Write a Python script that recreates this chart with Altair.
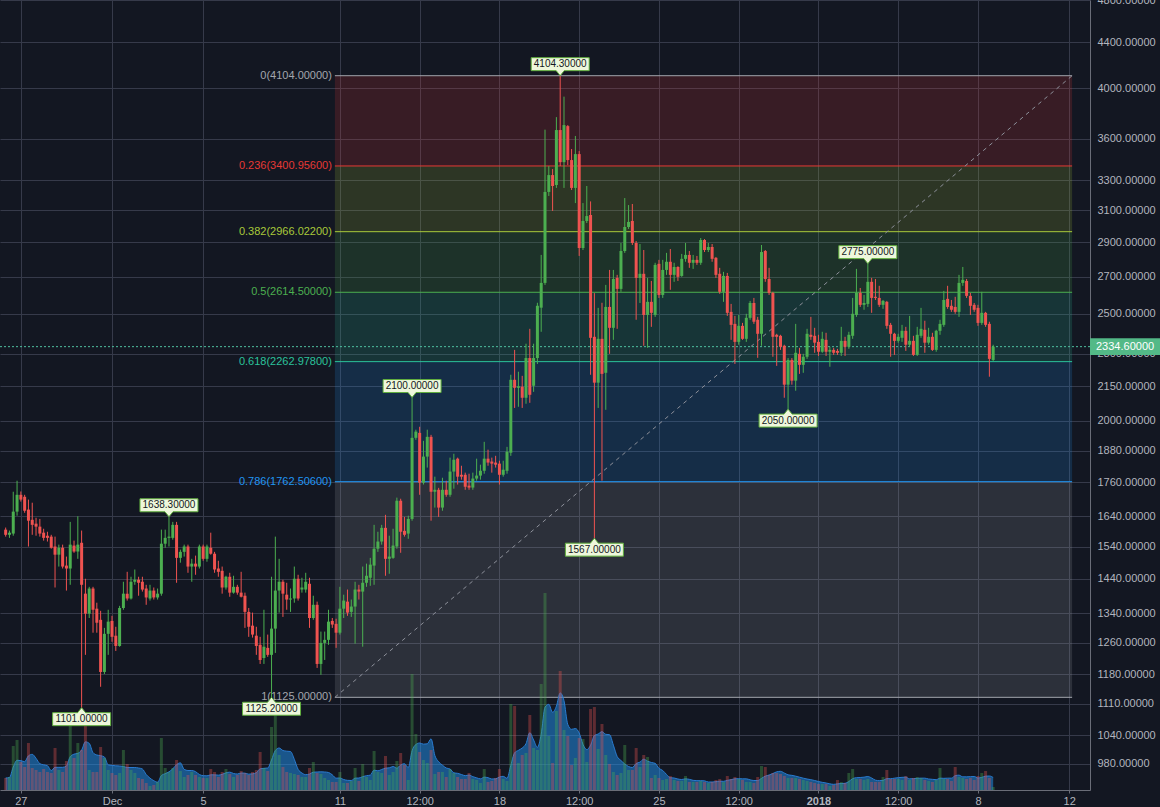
import altair as alt
import pandas as pd

# ---------------------------------------------------------------------------
# BTC/USD 4-hour candles, 26 Nov 2017 08:00 -> 8 Jan 2018 16:00
# ---------------------------------------------------------------------------
first_candle = "2017-11-26 08:00"
day_zero = "2017-11-27 00:00"

opens = [
    1595,
    1578, 1582, 1656, 1715, 1708, 1663, 1628, 1615, 1605, 1585,
    1575, 1572, 1540, 1514, 1536, 1480, 1471, 1543, 1524, 1552,
    1396, 1339, 1411, 1353, 1322, 1186, 1284, 1319, 1279, 1252,
    1355, 1396, 1382, 1431, 1437, 1431, 1411, 1382, 1405, 1385,
    1396, 1549, 1568, 1568, 1611, 1504, 1523, 1540, 1477, 1486,
    1477, 1540, 1501, 1536, 1517, 1471, 1464, 1414, 1446, 1399,
    1416, 1399, 1390, 1344, 1306, 1279, 1255, 1221, 1247, 1229,
    1298, 1405, 1431, 1393, 1379, 1382, 1440, 1408, 1408, 1425,
    1327, 1364, 1206, 1260, 1268, 1319, 1311, 1287, 1353, 1373,
    1344, 1359, 1408, 1402, 1428, 1443, 1480, 1533, 1556, 1601,
    1501, 1504, 1540, 1694, 1591, 1582, 1631, 1931, 1951, 1759,
    1857, 1935, 1726, 1733, 1670, 1733, 1715, 1800, 1849, 1788,
    1788, 1748, 1741, 1774, 1785, 1803, 1849, 1838, 1834, 1830,
    1788, 1803, 1872, 2179, 2143, 2148, 2099, 2280, 2152, 2280,
    2532, 2666, 3222, 3337, 3269, 3665, 3428, 3695, 3443, 3249,
    3486, 2867, 3033, 3071, 2383, 2166, 2373, 2211, 2536, 2428,
    2694, 2633, 2849, 2995, 3033, 2897, 2694, 2717, 2494, 2563,
    2494, 2774, 2600, 2739, 2786, 2711, 2756, 2705, 2803, 2826,
    2780, 2797, 2780, 2915, 2855, 2873, 2809, 2717, 2617, 2705,
    2510, 2448, 2358, 2438, 2373, 2479, 2557, 2469, 2398, 2849,
    2688, 2611, 2393, 2388, 2339, 2157, 2271, 2175, 2300, 2248,
    2286, 2393, 2388, 2358, 2310, 2368, 2310, 2319, 2314, 2305,
    2363, 2334, 2388, 2494, 2611, 2547, 2552, 2672, 2590, 2584,
    2547, 2563, 2443, 2398, 2363, 2378, 2413, 2344, 2363, 2295,
    2388, 2418, 2354, 2383, 2319, 2413, 2443, 2579, 2542, 2536,
    2510, 2666, 2677, 2595, 2547, 2531, 2453, 2505, 2448, 2271,
]

highs = [
    1602,
    1592, 1726, 1766, 1727, 1715, 1698, 1687, 1635, 1631, 1598,
    1588, 1578, 1572, 1546, 1546, 1508, 1621, 1559, 1640, 1592,
    1440, 1416, 1416, 1370, 1347, 1300, 1350, 1333, 1303, 1361,
    1431, 1461, 1446, 1468, 1446, 1446, 1422, 1422, 1414, 1411,
    1595, 1595, 1638.3, 1621, 1621, 1530, 1546, 1546, 1501, 1511,
    1546, 1546, 1546, 1585, 1523, 1495, 1477, 1449, 1458, 1449,
    1422, 1461, 1399, 1355, 1342, 1303, 1276, 1350, 1282, 1446,
    1572, 1501, 1437, 1428, 1411, 1477, 1452, 1443, 1458, 1443,
    1390, 1373, 1290, 1290, 1350, 1327, 1325, 1416, 1393, 1408,
    1379, 1431, 1422, 1477, 1486, 1504, 1611, 1588, 1611, 1645,
    1575, 1598, 1705, 1701, 1638, 1642, 2100, 1964, 1976, 1919,
    1964, 1943, 1781, 1740, 1777, 1766, 1853, 1868, 1853, 1822,
    1796, 1792, 1796, 1849, 1826, 1915, 1884, 1853, 1860, 1841,
    1841, 1895, 2202, 2319, 2216, 2197, 2349, 2423, 2349, 2558,
    2826, 3668, 3400, 3379, 3765, 4104.3, 3929, 3703, 3523, 3620,
    3508, 3148, 3262, 3159, 2610, 2531, 2558, 2655, 2739, 2739,
    2711, 2897, 3181, 3135, 3142, 2909, 2891, 2855, 2694, 2677,
    2780, 2797, 2797, 2838, 2861, 2780, 2760, 2832, 2897, 2849,
    2826, 2820, 2927, 2921, 2897, 2891, 2814, 2751, 2728, 2722,
    2552, 2489, 2494, 2453, 2500, 2568, 2584, 2484, 2885, 2855,
    2751, 2617, 2398, 2393, 2344, 2280, 2280, 2448, 2329, 2300,
    2423, 2484, 2428, 2393, 2408, 2403, 2334, 2329, 2324, 2433,
    2383, 2408, 2584, 2745, 2638, 2600, 2775, 2694, 2688, 2650,
    2573, 2568, 2453, 2403, 2398, 2443, 2433, 2489, 2388, 2433,
    2531, 2464, 2428, 2403, 2418, 2469, 2622, 2650, 2573, 2590,
    2711, 2756, 2688, 2611, 2557, 2547, 2617, 2510, 2459, 2344,
]

lows = [
    1572,
    1568, 1575, 1642, 1691, 1652, 1540, 1578, 1575, 1572, 1559,
    1556, 1533, 1414, 1477, 1471, 1405, 1422, 1520, 1501, 1101,
    1229, 1327, 1287, 1287, 1150, 1181, 1229, 1263, 1239, 1250,
    1350, 1376, 1379, 1422, 1390, 1402, 1364, 1376, 1379, 1379,
    1390, 1536, 1540, 1562, 1428, 1489, 1508, 1458, 1431, 1452,
    1471, 1495, 1492, 1514, 1458, 1446, 1396, 1408, 1387, 1396,
    1393, 1385, 1300, 1276, 1274, 1229, 1206, 1206, 1224, 1125.2,
    1234, 1342, 1330, 1350, 1344, 1370, 1376, 1399, 1399, 1300,
    1322, 1196, 1179, 1216, 1255, 1300, 1247, 1282, 1327, 1333,
    1330, 1258, 1379, 1250, 1416, 1419, 1422, 1523, 1546, 1449,
    1455, 1501, 1533, 1520, 1572, 1565, 1625, 1923, 1715, 1752,
    1815, 1625, 1670, 1638, 1659, 1708, 1708, 1737, 1752, 1770,
    1733, 1733, 1733, 1766, 1770, 1792, 1822, 1796, 1815, 1752,
    1781, 1792, 1860, 2055, 2060, 2055, 2073, 2077, 2125, 2252,
    2408, 2655, 3195, 3097, 3249, 3400, 3249, 3407, 3235, 3148,
    2820, 2855, 3020, 2202, 1567, 2055, 1766, 2047, 2300, 2368,
    2423, 2617, 2838, 2983, 2885, 2469, 2557, 2339, 2329, 2433,
    2484, 2584, 2584, 2711, 2628, 2672, 2677, 2700, 2786, 2751,
    2745, 2768, 2768, 2843, 2843, 2786, 2694, 2606, 2563, 2489,
    2368, 2252, 2344, 2368, 2358, 2469, 2448, 2281, 2339, 2672,
    2600, 2286, 2243, 2319, 2099, 2050, 2157, 2130, 2206, 2211,
    2276, 2368, 2305, 2290, 2305, 2290, 2239, 2295, 2295, 2290,
    2290, 2324, 2373, 2484, 2536, 2521, 2536, 2505, 2573, 2536,
    2526, 2423, 2286, 2295, 2354, 2358, 2314, 2334, 2290, 2290,
    2378, 2305, 2344, 2314, 2310, 2393, 2433, 2526, 2510, 2500,
    2484, 2650, 2584, 2494, 2510, 2438, 2443, 2433, 2193, 2266,
]

closes = [
    1578,
    1585, 1656, 1715, 1698, 1659, 1625, 1611, 1605, 1582, 1568,
    1568, 1536, 1514, 1536, 1477, 1471, 1546, 1524, 1546, 1422,
    1339, 1411, 1350, 1314, 1186, 1284, 1317, 1276, 1252, 1355,
    1396, 1382, 1431, 1437, 1428, 1408, 1385, 1405, 1385, 1396,
    1549, 1568, 1572, 1611, 1504, 1523, 1540, 1477, 1486, 1477,
    1540, 1501, 1540, 1517, 1468, 1461, 1414, 1446, 1399, 1416,
    1399, 1387, 1344, 1303, 1282, 1252, 1216, 1250, 1229, 1298,
    1405, 1431, 1396, 1379, 1382, 1440, 1382, 1414, 1431, 1327,
    1364, 1206, 1260, 1268, 1317, 1309, 1287, 1353, 1376, 1342,
    1359, 1408, 1402, 1428, 1449, 1483, 1533, 1556, 1601, 1501,
    1508, 1543, 1694, 1588, 1578, 1631, 1931, 1956, 1759, 1857,
    1935, 1726, 1733, 1670, 1733, 1715, 1800, 1845, 1781, 1781,
    1744, 1741, 1774, 1785, 1803, 1849, 1834, 1830, 1826, 1788,
    1807, 1876, 2179, 2143, 2150, 2099, 2280, 2112, 2280, 2542,
    2666, 3222, 3337, 3262, 3665, 3428, 3703, 3443, 3249, 3486,
    2867, 3033, 3064, 2378, 2166, 2373, 2206, 2536, 2428, 2688,
    2633, 2849, 2995, 3027, 2897, 2694, 2717, 2494, 2563, 2505,
    2768, 2600, 2739, 2786, 2711, 2756, 2700, 2803, 2826, 2780,
    2797, 2780, 2915, 2855, 2873, 2803, 2711, 2617, 2705, 2505,
    2443, 2358, 2438, 2373, 2479, 2557, 2459, 2398, 2843, 2688,
    2611, 2383, 2383, 2334, 2157, 2271, 2175, 2305, 2248, 2286,
    2398, 2383, 2354, 2310, 2373, 2310, 2319, 2305, 2305, 2363,
    2334, 2393, 2500, 2611, 2547, 2557, 2672, 2584, 2584, 2547,
    2568, 2438, 2398, 2363, 2383, 2413, 2344, 2363, 2295, 2393,
    2423, 2354, 2383, 2319, 2413, 2448, 2573, 2536, 2521, 2510,
    2666, 2683, 2595, 2542, 2521, 2453, 2505, 2443, 2276, 2334.6,
]

# traded volume per candle (thousands)
volumes = [
    12,
    13, 44, 50, 28, 23, 47, 22, 20, 18, 21,
    18, 17, 42, 20, 18, 29, 74, 32, 47, 40,
    67, 20, 18, 18, 43, 32, 20, 17, 15, 17,
    40, 26, 20, 17, 12, 11, 7, 4, 5, 8,
    52, 22, 18, 22, 30, 19, 13, 15, 18, 15,
    13, 12, 12, 21, 18, 13, 18, 21, 16, 13,
    15, 19, 17, 15, 18, 20, 38, 22, 19, 63,
    75, 35, 23, 18, 17, 16, 15, 13, 13, 22,
    28, 17, 16, 12, 10, 8, 8, 18, 7, 7,
    9, 22, 9, 26, 13, 10, 39, 18, 17, 34,
    15, 18, 29, 37, 25, 10, 116, 56, 38, 30,
    27, 40, 16, 18, 18, 13, 21, 17, 13, 11,
    11, 17, 11, 10, 7, 21, 8, 9, 12, 21,
    11, 9, 86, 84, 27, 35, 37, 75, 42, 40,
    106, 197, 54, 27, 79, 119, 60, 54, 25, 32,
    52, 51, 28, 81, 83, 41, 66, 35, 26, 18,
    15, 17, 45, 20, 20, 42, 23, 35, 33, 12,
    15, 12, 10, 11, 14, 10, 9, 9, 14, 8,
    8, 8, 9, 8, 7, 8, 10, 11, 8, 14,
    11, 13, 11, 10, 8, 8, 7, 13, 24, 23,
    15, 17, 17, 16, 14, 12, 12, 12, 11, 10,
    9, 8, 7, 6, 6, 6, 4, 5, 10, 8,
    7, 17, 21, 11, 11, 10, 11, 8, 8, 8,
    13, 20, 11, 11, 11, 10, 14, 10, 12, 13,
    12, 10, 9, 8, 10, 22, 11, 11, 9, 23,
    13, 12, 11, 12, 10, 14, 17, 19, 12, 3,
]

# axis ticks
x_tick_days = [0, 4, 8, 14, 17.5, 21, 24.5, 28, 31.5, 35, 38.5, 42, 46]
x_tick_text = ["27", "Dec", "5", "11", "12:00", "18", "12:00", "25",
               "12:00", "2018", "12:00", "8", "12"]
y_tick_prices = [980, 1040, 1110, 1180, 1260, 1340, 1440, 1540, 1640, 1760,
                 1880, 2000, 2150, 2300, 2500, 2700, 2900, 3100, 3300, 3600,
                 4000, 4400, 4800]

# Fibonacci retracement drawn between the 1125 low and the 4104 high
fib_low, fib_high = 1125.0, 4104.0
fib_ratios = ["0", "0.236", "0.382", "0.5", "0.618", "0.786", "1"]
fib_colors = ["#a3a6ad", "#e53935", "#a9c93a", "#4caf50", "#2bc29b", "#2196f3", "#a3a6ad"]
fib_start_day, fib_end_day = 13.78, 46.13

# swing callouts: candle position in the arrays and which extreme is marked
callout_index = [146, 20, 43, 70, 107, 155, 206, 227]
callout_side = ["high", "low", "high", "low", "high", "low", "low", "high"]

# ---------------------------------------------------------------------------
UP, DOWN = "#53b987", "#eb4d5c"
BG = "#131722"
GRID = "#363a4a"
LABEL = "#b2b5be"
FONT = "Liberation Sans"

times = pd.date_range(first_candle, periods=len(closes), freq="4h")
days = (times - pd.Timestamp(day_zero)) / pd.Timedelta(days=1)

candles = pd.DataFrame({
    "t": days, "open": opens, "high": highs, "low": lows,
    "close": closes, "volume": volumes,
})
candles["dir"] = ["up" if c >= o else "down" for o, c in zip(opens, closes)]

fib_prices = [fib_high - float(r) * (fib_high - fib_low) for r in fib_ratios]
fib_levels = pd.DataFrame({
    "price": fib_prices,
    "label": [f"{r}({p:.5f})" for r, p in zip(fib_ratios, fib_prices)],
    "color": fib_colors,
    "x0": fib_start_day, "x1": fib_end_day,
})
fib_zones = pd.DataFrame({
    "top": fib_prices[:-1], "bottom": fib_prices[1:], "color": fib_colors[1:],
    "x0": fib_start_day, "x1": fib_end_day,
})
trend = pd.DataFrame({"x0": [fib_start_day], "x1": [fib_end_day],
                      "y0": [fib_low], "y1": [fib_high]})

callouts = pd.DataFrame({
    "t": [candles["t"][i] for i in callout_index],
    "price": [highs[i] if s == "high" else lows[i]
              for i, s in zip(callout_index, callout_side)],
    "side": callout_side,
})
callouts["text"] = [f"{p:.5f}" for p in callouts["price"]]

last = pd.DataFrame({"price": [closes[-1]], "text": [f"{closes[-1]:.5f}"]})

# ---------------------------------------------------------------------------
x_scale = alt.Scale(domain=[-16 / 23, 1074 / 23], nice=False, zero=False)
price_scale = alt.Scale(type="log", domain=[927.6, 4804.6], nice=False, zero=False)
vol_scale = alt.Scale(domain=[0, 790], nice=False)

label_expr = " : ".join(f"datum.value == {v} ? '{s}'"
                        for v, s in zip(x_tick_days, x_tick_text)) + " : ''"
year_tick = x_tick_days[x_tick_text.index("2018")]
x_axis = alt.Axis(values=x_tick_days, labelExpr=label_expr, title=None,
                  grid=True, gridColor=GRID, tickSize=3, tickColor="#6a6d78",
                  domainColor="#6a6d78", labelPadding=2, labelFlush=False,
                  labelOverlap=False, labelColor=LABEL, labelFont=FONT,
                  labelFontSize=11,
                  labelFontWeight={"condition": {"test": f"datum.value == {year_tick}",
                                                 "value": "bold"},
                                   "value": "normal"})
y_axis = alt.Axis(orient="right", values=y_tick_prices, format=".5f", title=None,
                  grid=True, gridColor=GRID, ticks=False, labelPadding=7,
                  domainColor="#6a6d78", labelOverlap=False, labelColor=LABEL,
                  labelFont=FONT, labelFontSize=11)

# every layer carries the same x axis so the shared axis merges cleanly
X = alt.X("t:Q", scale=x_scale, axis=x_axis)
X0 = alt.X("x0:Q", scale=x_scale, axis=x_axis)
# background price layers carry the visible price axis, the others none
Yb = lambda f: alt.Y(f, scale=price_scale, axis=y_axis)
Yp = lambda f: alt.Y(f, scale=price_scale, axis=None)

# --- background: Fibonacci zones, levels, trend line --------------------------
zones = alt.Chart(fib_zones).mark_rect(opacity=0.18).encode(
    x=X0, x2="x1:Q", y=Yb("top:Q"), y2="bottom:Q",
    color=alt.Color("color:N", scale=None),
)
levels = alt.Chart(fib_levels).mark_rule(strokeWidth=1).encode(
    x=X0, x2="x1:Q", y=Yb("price:Q"),
    color=alt.Color("color:N", scale=None),
)
level_text = alt.Chart(fib_levels).mark_text(
    align="right", baseline="middle", dx=-3, font=FONT, fontSize=11
).encode(
    x=X0, y=Yb("price:Q"),
    text="label:N", color=alt.Color("color:N", scale=None),
)
trend_line = alt.Chart(trend).mark_rule(
    color="#8d909a", strokeWidth=1, strokeDash=[4, 4]
).encode(x=X0, x2="x1:Q", y=Yb("y0:Q"), y2="y1:Q")
background = alt.layer(zones, levels, level_text, trend_line)

# --- volume pane ---------------------------------------------------------------
vol_base = alt.Chart(candles)
vol_ma = vol_base.transform_window(
    vol_ma="mean(volume)", frame=[-5, 0], sort=[alt.SortField("t")]
).mark_area(interpolate="monotone", color="#2196f3", opacity=0.5,
            line={"color": "#2a7bd0", "strokeWidth": 1}).encode(
    x=X, y=alt.Y("vol_ma:Q", scale=vol_scale, axis=None),
)
vol_bars = vol_base.mark_bar(width=3, opacity=0.35).encode(
    x=X, y=alt.Y("volume:Q", scale=vol_scale, axis=None),
    color=alt.Color("dir:N", scale=alt.Scale(domain=["up", "down"],
                                             range=["#4caf50", "#ef5350"]),
                    legend=None),
)
volume = alt.layer(vol_ma, vol_bars)

# --- candles and annotations -----------------------------------------------------
dir_color = alt.Color("dir:N", scale=alt.Scale(domain=["up", "down"], range=[UP, DOWN]),
                      legend=None)

price_line = alt.Chart(last).mark_rule(color="#4fc1a0", strokeDash=[2, 2],
                                       strokeWidth=1).encode(y=Yp("price:Q"))
wicks = alt.Chart(candles).mark_rule(strokeWidth=1).encode(
    x=X, y=Yp("low:Q"), y2="high:Q", color=dir_color)
bodies = alt.Chart(candles).mark_bar(width=3).encode(
    x=X, y=Yp("open:Q"), y2="close:Q", color=dir_color)

box_up = "M-1,-0.224L1,-0.224L1,0.224L0.138,0.224L0,0.396L-0.138,0.224L-1,0.224Z"
box_down = "M-1,0.224L1,0.224L1,-0.224L0.138,-0.224L0,-0.396L-0.138,-0.224L-1,-0.224Z"
call_layers = []
for side, shape, off in [("high", box_up, -11.5), ("low", box_down, 11.5)]:
    base = alt.Chart(callouts).transform_filter(alt.datum.side == side)
    call_layers.append(base.mark_point(
        shape=shape, size=58 * 58, filled=True, fill="#eef7dc", stroke="#5fae3c",
        strokeWidth=1, opacity=1, yOffset=off
    ).encode(x=X, y=Yp("price:Q")))
    call_layers.append(base.mark_text(
        font=FONT, fontSize=10, color="#131722", baseline="middle", dy=off
    ).encode(x=X, y=Yp("price:Q"), text="text:N"))

tag_box = alt.Chart(last).mark_point(
    shape="M-1,-0.24L1,-0.24L1,0.24L-1,0.24Z", size=70 * 70, filled=True,
    fill=UP, opacity=1
).encode(x=alt.value(1125), y=Yp("price:Q"))
tag_text = alt.Chart(last).mark_text(
    align="left", baseline="middle", font=FONT, fontSize=11, color="#ffffff"
).encode(x=alt.value(1096), y=Yp("price:Q"), text="text:N")

foreground = alt.layer(price_line, wicks, bodies, *call_layers, tag_box, tag_text)

chart = alt.layer(background, volume, foreground).resolve_scale(
    y="independent"
).properties(
    width=1090, height=790, background=BG,
    padding={"left": 0, "top": 0, "right": 70, "bottom": 17},
    autosize=alt.AutoSizeParams(type="none"),
).configure_view(stroke=None)

chart.save("out.html", embed_options={"renderer": "svg", "actions": False})
